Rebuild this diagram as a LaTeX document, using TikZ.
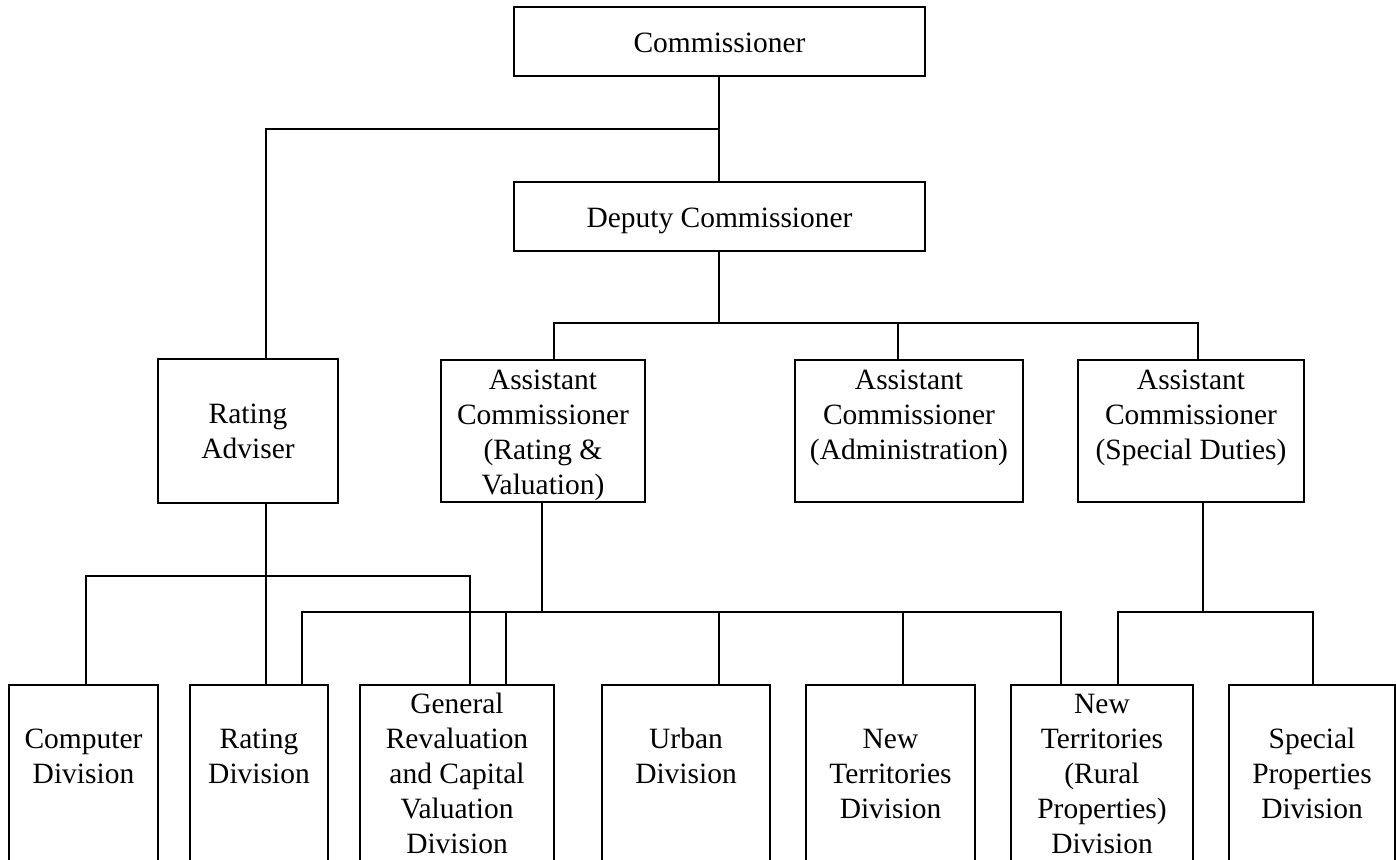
\documentclass[tikz,border=0pt]{standalone}
\usepackage{fontspec}
\setmainfont{Liberation Serif}
\usetikzlibrary{fit}
\tikzset{
  x=0.75pt, y=-0.75pt,
  box/.style={draw, line width=1.5pt, inner sep=0pt, rectangle},
  conn/.style={draw, line width=1.2pt},
  txt/.style={font=\fontsize{22.1}{26.25}\selectfont, align=center, inner sep=0pt, anchor=north}
}
\begin{document}
\begin{tikzpicture}
\useasboundingbox (0,0) rectangle (1396,860);
\clip (0,0) rectangle (1396,860);
\fill[white] (0,0) rectangle (1396,860);
% boxes
\node[box, fit={(514,7) (925,76)}] (comm) {};
\node[box, fit={(514,182) (925,251)}] (dep) {};
\node[box, fit={(158,359) (338,503)}] (adv) {};
\node[box, fit={(441,360) (645,502)}] (rv) {};
\node[box, fit={(795,360) (1023,502)}] (adm) {};
\node[box, fit={(1078,360) (1304,502)}] (sd) {};
\node[box, fit={(9,685) (158,900)}] (comp) {};
\node[box, fit={(190,685) (328,900)}] (rdiv) {};
\node[box, fit={(360,685) (554,900)}] (gr) {};
\node[box, fit={(602,685) (770,900)}] (urb) {};
\node[box, fit={(806,685) (975,900)}] (nt) {};
\node[box, fit={(1011,685) (1193,900)}] (ntr) {};
\node[box, fit={(1229,685) (1395,900)}] (sp) {};
% texts
\node[txt] (commT) at (719.5,28.2) {\strut Commissioner};
\node[txt] (depT) at (719.5,203) {\strut Deputy Commissioner};
\node[txt] (advT) at (248,398.5) {\strut Rating\\Adviser};
\node[txt] (rvT) at (543,364.5) {\strut Assistant\\Commissioner\\(Rating \&\\Valuation)};
\node[txt] (admT) at (909,364.5) {\strut Assistant\\Commissioner\\(Administration)};
\node[txt] (sdT) at (1191,364.5) {\strut Assistant\\Commissioner\\(Special Duties)};
\node[txt] (compT) at (83.5,723.5) {\strut Computer\\Division};
\node[txt] (rdivT) at (259,723.5) {\strut Rating\\Division};
\node[txt] (grT) at (457,688.5) {\strut General\\Revaluation\\and Capital\\Valuation\\Division};
\node[txt] (urbT) at (686,723.5) {\strut Urban\\Division};
\node[txt] (ntT) at (890.5,723.5) {\strut New\\Territories\\Division};
\node[txt] (ntrT) at (1102,688.5) {\strut New\\Territories\\(Rural\\Properties)\\Division};
\node[txt] (spT) at (1312,723.5) {\strut Special\\Properties\\Division};
% junctions
\coordinate (j1) at (719,129);
\coordinate (ab) at (266,576);
\coordinate (db) at (719,323);
\coordinate (rb) at (542,612);
\coordinate (sb) at (1203,612);
% connectors
\draw[conn] (comm.south -| j1) -- (dep.north -| j1);
\draw[conn] (j1) -| (adv.north -| ab);
\draw[conn] (adv.south -| ab) -- (rdiv.north -| ab);
\draw[conn] (comp.north -| 86,0) |- (ab) -| (gr.north -| 470,0);
\draw[conn] (dep.south -| db) -- (db);
\draw[conn] (rv.north -| 554,0) |- (db) -| (sd.north -| 1198,0);
\draw[conn] (adm.north -| 898,0) -- (db -| 898,0);
\draw[conn] (rv.south -| rb) -- (rb);
\draw[conn] (rdiv.north -| 302,0) |- (rb) -| (ntr.north -| 1061,0);
\draw[conn] (gr.north -| 506,0) -- (rb -| 506,0);
\draw[conn] (urb.north -| 719,0) -- (rb -| 719,0);
\draw[conn] (nt.north -| 903,0) -- (rb -| 903,0);
\draw[conn] (sd.south -| sb) -- (sb);
\draw[conn] (ntr.north -| 1118,0) |- (sb) -| (sp.north -| 1313,0);
\end{tikzpicture}
\end{document}
